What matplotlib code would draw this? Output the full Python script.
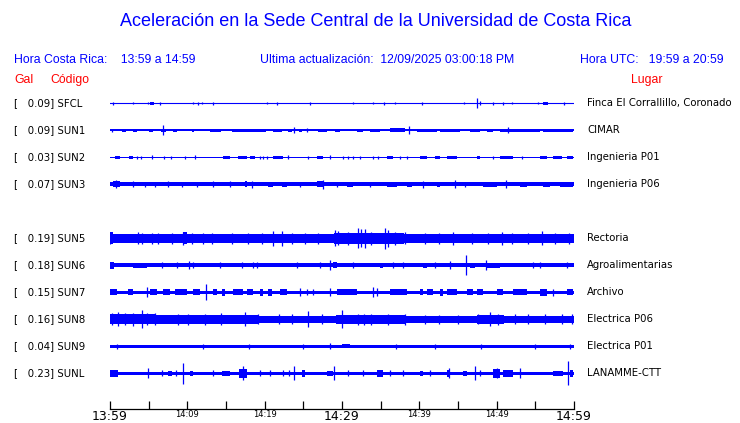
import matplotlib
matplotlib.use("Agg")
import matplotlib.pyplot as plt
from matplotlib.transforms import blended_transform_factory

# estaciones del acelerografo (SUN4 no aparece, queda la fila vacia)
stations = ["SFCL", "SUN1", "SUN2", "SUN3", "SUN5", "SUN6", "SUN7", "SUN8", "SUN9", "SUNL"]
gal = [0.09, 0.09, 0.03, 0.07, 0.19, 0.18, 0.15, 0.16, 0.04, 0.23]
lugares = ["Finca El Corrallillo, Coronado", "CIMAR", "Ingenieria P01", "Ingenieria P06",
           "Rectoria", "Agroalimentarias", "Archivo", "Electrica P06", "Electrica P01",
           "LANAMME-CTT"]
rows = [0, 1, 2, 3, 5, 6, 7, 8, 9, 10]

# minutos desde 13:59
tick_min = list(range(0, 61, 5))
tick_text = {0: "13:59", 10: "14:09", 20: "14:19", 30: "14:29", 40: "14:39", 50: "14:49", 60: "14:59"}

# semiamplitud del ruido de fondo de cada traza (en pixeles de pantalla)
base = [0.5, 0.9, 0.7, 1.8, 4.5, 1.9, 1.8, 3.6, 1.6, 1.8]

# tramos con mas amplitud: (inicio, fin, semiamplitud)
bursts = {
    "SFCL": [(5.2, 5.7, 1.5), (56.0, 56.6, 1.5)],
    "SUN1": [(1.6, 2.1, 1.6), (3.0, 3.5, 1.6), (5.0, 5.6, 1.6), (6.6, 7.2, 1.6), (8.1, 8.7, 1.6),
             (10.6, 10.9, 1.4), (12.9, 14.4, 1.6), (15.8, 20.2, 1.6), (21.1, 22.2, 1.6),
             (23.0, 23.5, 1.4), (24.4, 24.8, 1.6), (26.9, 28.1, 1.6), (29.1, 29.7, 1.6),
             (31.9, 32.7, 1.4), (33.6, 34.9, 1.6), (36.2, 38.1, 2), (39.7, 42.3, 1.6),
             (42.7, 45.3, 1.6), (46.5, 47.8, 1.6), (48.7, 49.5, 1.6), (50.4, 55.6, 1.6),
             (56.0, 59.9, 1.6)],
    "SUN2": [(0.6, 1.3, 1.6), (2.5, 3.0, 1.6), (14.6, 15.5, 1.6), (16.6, 17.7, 1.6),
             (18.1, 18.7, 1.6), (21.1, 22.4, 1.6), (26.8, 27.5, 1.6), (35.8, 36.6, 1.4),
             (40.1, 41.0, 1.6), (42.0, 42.7, 1.4), (43.6, 44.9, 1.6), (47.5, 47.8, 1.4),
             (50.4, 52.1, 1.6), (55.6, 56.5, 1.6), (57.3, 58.4, 1.6), (59.1, 59.9, 1.6)],
    "SUN3": [(0.4, 1.3, 3), (17.5, 17.7, 3), (20.4, 21.1, 2.6), (22.2, 22.9, 2.6),
             (26.8, 27.5, 3), (30.6, 31.4, 2.6), (35.8, 37.1, 2.6), (38.4, 39.0, 2.6),
             (42.3, 42.7, 2.6), (48.2, 50.0, 2.6), (53.0, 53.9, 2.6), (56.0, 56.9, 2.6),
             (58.2, 59.9, 2.6)],
    "SUN5": [(0.0, 0.4, 6), (29.0, 38.0, 5.5), (9.4, 10.0, 6)],
    "SUN6": [(0.0, 0.5, 3.5), (3.0, 4.8, 2.6), (28.8, 29.4, 3), (34.9, 35.3, 2.6),
             (40.5, 41.0, 2.6), (46.5, 47.2, 2.6), (48.7, 50.4, 2.6)],
    "SUN7": [(0.0, 0.9, 3), (2.3, 3.0, 3), (5.2, 6.1, 3), (6.9, 7.8, 3), (8.4, 10.0, 3),
             (10.7, 11.6, 3), (13.3, 13.8, 3), (14.5, 14.9, 3.4), (15.9, 17.2, 3),
             (17.7, 18.5, 3), (19.4, 19.8, 3.4), (20.4, 20.9, 3.4), (22.0, 22.9, 3),
             (29.4, 31.9, 3), (36.2, 38.4, 3), (40.1, 40.5, 3), (41.0, 41.8, 3),
             (42.7, 43.1, 3.4), (43.6, 44.9, 3), (46.2, 46.9, 3), (47.5, 48.2, 3),
             (50.0, 50.8, 3), (52.1, 53.9, 3), (55.6, 56.5, 3.4), (59.1, 59.9, 3)],
    "SUN8": [(0.0, 6.0, 5), (6.0, 19.3, 4.3), (29.2, 38.2, 4.3), (47.5, 51.0, 4.3),
             (19.3, 29.2, 3.6), (51.0, 60.0, 3.6)],
    "SUN9": [(30.0, 31.0, 2.1)],
    "SUNL": [(0.0, 1.0, 3.5), (7.5, 8.0, 2.6), (10.3, 10.7, 2.6), (14.5, 15.5, 2.6),
             (16.7, 17.7, 4.5), (24.8, 25.2, 3.5), (28.1, 28.8, 2.6), (34.5, 35.3, 3.5),
             (40.1, 40.5, 2.6), (43.6, 44.0, 3.5), (45.6, 46.2, 2.6), (49.5, 50.4, 4.5),
             (50.8, 52.1, 3.5), (57.3, 58.6, 2.6), (59.5, 59.9, 3.5)],
}

# picos sueltos: (minuto, semiamplitud)
spikes = {
    "SFCL": [(0.4, 1.5), (3.0, 1), (4.9, 1), (6.5, 1.5), (10.7, 1), (11.4, 1.5), (11.9, 1),
             (13.3, 1.5), (20.3, 1), (21.6, 1.5), (25.9, 1.5), (31.4, 1), (34.0, 1),
             (35.4, 1.5), (36.9, 1), (40.3, 1.5), (45.8, 1), (47.5, 5), (47.8, 2),
             (49.5, 1.5), (50.8, 1.5), (52.0, 1), (55.3, 1), (58.7, 1.5)],
    "SUN1": [(0.3, 1.5), (6.9, 5), (23.8, 3), (38.7, 4), (51.5, 3), (25.5, 2)],
    "SUN2": [(3.5, 1.5), (4.0, 1.5), (5.4, 2), (7.0, 1.5), (7.9, 1.5), (9.7, 1.5), (11.0, 2),
             (19.4, 1.5), (19.8, 1.5), (20.3, 1.5), (23.0, 2), (25.6, 1.5), (28.4, 2),
             (30.1, 1.5), (30.8, 1.5), (31.4, 1.5), (32.3, 1.5), (34.0, 1.5), (34.7, 1.5),
             (37.5, 1.5), (38.4, 1.5), (49.5, 1.5), (53.3, 1.5)],
    "SUN3": [(0.8, 4), (3.0, 3), (4.5, 2.5), (5.8, 2.5), (7.5, 3), (9.3, 2.5), (11.2, 2.5),
             (13.3, 3), (15.5, 3), (18.4, 3.5), (24.6, 2.5), (27.5, 4.5), (29.4, 2.5),
             (33.6, 2.5), (40.5, 3.5), (44.6, 4), (45.9, 2.5), (51.2, 4)],
    "SUN5": [(0.0, 6), (3.66, 6), (4.1, 5.5), (5.39, 5.5), (6.25, 5.5), (7.97, 5.5), (9.48, 6.5),
             (10.56, 5.5), (12.07, 5.5), (13.15, 5.5), (15.74, 5.5), (17.9, 5.5), (19.6, 5.5),
             (21.1, 7.5), (22.3, 7.5), (23.5, 5.5), (25.2, 5.5), (26.9, 5.5), (29.1, 8),
             (29.5, 7), (30.8, 6.5), (32.1, 10), (32.5, 9), (33.0, 9.5), (33.8, 6.5),
             (35.6, 10.5), (36.0, 8.5), (36.9, 6.5), (38.1, 6), (40.7, 5.5), (42.5, 5.5),
             (44.4, 6.5), (46.8, 5.5), (48.9, 5.5), (50.7, 6.5), (52.0, 5.5), (54.1, 5.5),
             (55.8, 7), (57.5, 5.5), (59.3, 5.5)],
    "SUN6": [(6.7, 3), (8.7, 3), (10.2, 4), (10.7, 3), (14.2, 3), (17.1, 3), (18.5, 3),
             (19.0, 3), (24.2, 3), (27.2, 3), (28.4, 5), (31.4, 3), (36.6, 3), (37.9, 3),
             (42.0, 3), (44.0, 4), (46.0, 10), (48.6, 5), (54.7, 3), (55.6, 3), (59.1, 3)],
    "SUN7": [(4.8, 5), (12.4, 8), (24.6, 4), (25.5, 3), (26.2, 3), (28.4, 4), (34.0, 5),
             (34.5, 4), (57.3, 3.5)],
    "SUN8": [(0.22, 6), (1.08, 7), (1.94, 6), (3.02, 6.5), (4.1, 9), (4.74, 6), (5.82, 6),
             (8.84, 5.5), (10.1, 5.5), (12.3, 5.5), (14.4, 6), (17.5, 7), (19.2, 5),
             (21.8, 5), (23.5, 5), (25.6, 8), (27.4, 5), (30.0, 9), (32.1, 5.5), (32.9, 5.5),
             (33.8, 5.5), (36.0, 5.5), (38.1, 5.5), (40.7, 4.5), (42.5, 4.5), (45.0, 4.5),
             (47.6, 5), (49.1, 7), (50.2, 5.5), (52.4, 5), (54.1, 5), (56.2, 5), (58.4, 5),
             (59.7, 5)],
    "SUN9": [(0.9, 2.5), (12.0, 2.2), (18.0, 2.2), (25.0, 2.2), (28.4, 3), (37.0, 2.2),
             (42.0, 2.2), (48.0, 2.2), (55.0, 2.2), (59.5, 2.5)],
    "SUNL": [(4.9, 5), (6.7, 3), (8.5, 3), (9.4, 10.5), (13.3, 3), (17.2, 7), (19.4, 3),
             (20.7, 3), (22.4, 3), (23.1, 3), (23.8, 7), (29.0, 7), (30.8, 3), (32.7, 3),
             (36.2, 3), (37.9, 3), (41.4, 3), (43.8, 5), (47.2, 7), (47.8, 3), (50.0, 5),
             (53.0, 5), (59.2, 12)],
}

ROW_PX = 27.0  # separacion entre trazas en pixeles
BLUE = "#0000ff"

fig = plt.figure(figsize=(7.4, 4.23), dpi=100)
ax = fig.add_axes([110 / 740, 1 - 409 / 423, 464 / 740, (409 - 88) / 423])
ax.set_xlim(0, 60)
ax.set_ylim((409 - 103.3) / ROW_PX, (88 - 103.3) / ROW_PX)

for i, name in enumerate(stations):
    y = rows[i]
    h = base[i] / ROW_PX
    if base[i] < 0.6:
        ax.plot([0, 60], [y, y], color=BLUE, lw=0.8)
    else:
        ax.fill_between([0, 60], y - h, y + h, color=BLUE, lw=0)
    for t0, t1, a in bursts[name]:
        a = a / ROW_PX
        ax.fill_between([t0, t1], y - a, y + a, color=BLUE, lw=0)
    for t, a in spikes[name]:
        a = a / ROW_PX
        ax.vlines(t, y - a, y + a, color=BLUE, lw=0.9)

for s in ["top", "left", "right"]:
    ax.spines[s].set_visible(False)
ax.spines["bottom"].set_linewidth(0.9)
ax.set_yticks([])
ax.set_xticks(tick_min)
ax.set_xticklabels([tick_text.get(m, "") for m in tick_min])
ax.tick_params(axis="x", direction="in", length=6, width=0.9, pad=1)
for lab, m in zip(ax.get_xticklabels(), tick_min):
    lab.set_fontfamily("DejaVu Sans")
    if m in (0, 30, 60):
        lab.set_fontsize(9)
    else:
        lab.set_fontsize(6)

# textos de cabecera
fig.text(376 / 740, 1 - 22 / 423, "Aceleración en la Sede Central de la Universidad de Costa Rica",
         ha="center", va="center", color=BLUE, fontsize=13, family="Liberation Sans")
hy = 1 - 60 / 423
fig.text(14 / 740, hy, "Hora Costa Rica:    13:59 a 14:59", color=BLUE, fontsize=8.8,
         va="center", family="Liberation Sans")
fig.text(260 / 740, hy, "Ultima actualización:  12/09/2025 03:00:18 PM", color=BLUE, fontsize=8.8,
         va="center", family="Liberation Sans")
fig.text(580 / 740, hy, "Hora UTC:   19:59 a 20:59", color=BLUE, fontsize=8.8,
         va="center", family="Liberation Sans")
ry = 1 - 80 / 423
fig.text(14 / 740, ry, "Gal", color="red", fontsize=8.8, va="center", family="Liberation Sans")
fig.text(50 / 740, ry, "Código", color="red", fontsize=8.8, va="center", family="Liberation Sans")
fig.text(631 / 740, ry, "Lugar", color="red", fontsize=8.8, va="center", family="Liberation Sans")

tr = blended_transform_factory(fig.transFigure, ax.transData)
for i, name in enumerate(stations):
    fig.text(14 / 740, rows[i], "[   %.2f] %s" % (gal[i], name), transform=tr,
             fontsize=7.3, va="center", family="DejaVu Sans")
    fig.text(587 / 740, rows[i], lugares[i], transform=tr,
             fontsize=7.3, va="center", family="DejaVu Sans")

fig.savefig("out.png", dpi=100)
